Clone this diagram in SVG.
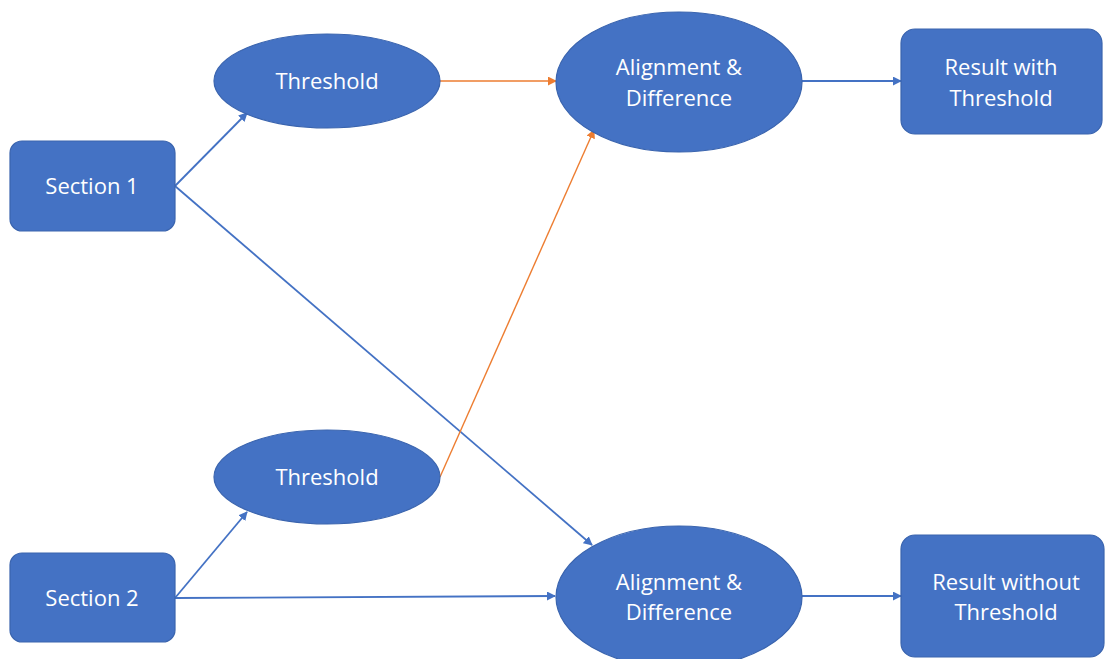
<svg xmlns="http://www.w3.org/2000/svg" width="1105" height="659" viewBox="0 0 1105 659">
<style>
.n{fill:#4472C4;stroke:#3A64AE;stroke-width:1.2}
.t{fill:#fff;font-family:"Open Sans","Noto Sans","Liberation Sans",sans-serif;font-size:22px;text-anchor:middle}
.b{stroke:#4472C4;stroke-width:1.8;fill:none;marker-end:url(#ab)}
.o{stroke:#ED7D31;stroke-width:1.4;fill:none;marker-end:url(#ao)}
</style>
<defs>
<marker id="ab" viewBox="0 0 10 10" refX="9" refY="5" markerWidth="9" markerHeight="9" markerUnits="userSpaceOnUse" orient="auto"><path d="M0,0L10,5L0,10z" fill="#4472C4"/></marker>
<marker id="ao" viewBox="0 0 10 10" refX="9" refY="5" markerWidth="9" markerHeight="9" markerUnits="userSpaceOnUse" orient="auto"><path d="M0,0L10,5L0,10z" fill="#ED7D31"/></marker>
</defs>
<rect width="1105" height="659" fill="#fff"/>
<g id="connectors">
<line class="b" x1="175" y1="186" x2="247" y2="113"/>
<line class="b" x1="175" y1="186" x2="592" y2="545"/>
<line class="b" x1="175" y1="598" x2="247" y2="512"/>
<line class="b" x1="175" y1="598" x2="555" y2="596"/>
<line class="o" x1="440" y1="81" x2="556" y2="81"/>
<line class="o" x1="440" y1="477" x2="594" y2="130"/>
<line class="b" x1="802" y1="81" x2="901" y2="81"/>
<line class="b" x1="802" y1="596" x2="901" y2="596"/>
</g>
<g id="section1"><rect class="n" x="10" y="141" width="165" height="90" rx="12"/><text class="t" x="92" y="194">Section 1</text></g>
<g id="section2"><rect class="n" x="10" y="553" width="165" height="89" rx="12"/><text class="t" x="92" y="606">Section 2</text></g>
<g id="threshold1"><ellipse class="n" cx="327" cy="81" rx="113" ry="47"/><text class="t" x="327" y="89">Threshold</text></g>
<g id="threshold2"><ellipse class="n" cx="327" cy="477" rx="113" ry="47"/><text class="t" x="327" y="485">Threshold</text></g>
<g id="align1"><ellipse class="n" cx="679" cy="82" rx="123" ry="70"/><text class="t" x="679" y="75">Alignment &amp;</text><text class="t" x="679" y="106">Difference</text></g>
<g id="align2"><ellipse class="n" cx="679" cy="597" rx="123" ry="71"/><text class="t" x="679" y="590">Alignment &amp;</text><text class="t" x="679" y="620">Difference</text></g>
<g id="result1"><rect class="n" x="901" y="29" width="201" height="105" rx="14"/><text class="t" x="1001" y="75">Result with</text><text class="t" x="1001" y="106">Threshold</text></g>
<g id="result2"><rect class="n" x="901" y="535" width="203" height="122" rx="14"/><text class="t" x="1006" y="590">Result without</text><text class="t" x="1006" y="620">Threshold</text></g>
</svg>
